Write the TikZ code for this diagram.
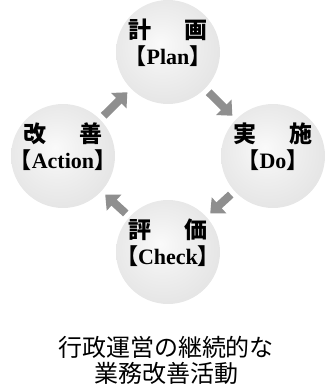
\documentclass[tikz,border=0pt]{standalone}
\usepackage{fontspec}
\usepackage{tikz}
\usetikzlibrary{arrows.meta}
\setmainfont{Liberation Serif}
\newfontfamily\cjk{Noto Sans CJK JP}
\newfontfamily\cjkh[RawFeature=+halt]{Noto Sans CJK JP}
\definecolor{arrowgray}{HTML}{8F8F8F}
\pgfdeclareradialshading{disc}{\pgfpoint{-4bp}{4bp}}{color(0bp)=(gray!4); color(14bp)=(gray!13); color(40bp)=(gray!27); color(45bp)=(gray!36); color(48bp)=(gray!55); color(50bp)=(gray!65)}

\begin{document}
\begin{tikzpicture}[x=1pt, y=-1pt, disc/.style={circle, minimum size=104pt, inner sep=0pt, shading=disc}, lbl/.style={align=center, font=\fontsize{22}{26}\selectfont, yshift=9pt}, big/.style={font=\cjk\bfseries\fontsize{23}{26}\selectfont}, cyc/.style={arrowgray, line width=8pt, -{Triangle[length=12pt,width=21pt]}, shorten >=5pt, shorten <=5pt}]
			\useasboundingbox (0,0) rectangle (325,391);
			\node[disc](plan) at (168, 52) {};
			\node[disc](do) at (273, 156) {};
			\node[disc](check) at (168, 252) {};
			\node[disc](act) at (63, 156) {};
			\node[lbl](planT) at (plan.center) {{\cjk\bfseries\fontsize{23}{26}\selectfont 計\hspace{1.4em}画}\\{\bfseries\cjkh 【}{\bfseries Plan}{\bfseries\cjkh 】}};
			\node[lbl](doT) at (do.center) {{\cjk\bfseries\fontsize{23}{26}\selectfont 実\hspace{1.4em}施}\\{\bfseries\cjkh 【}{\bfseries Do}{\bfseries\cjkh 】}};
			\node[lbl](checkT) at (check.center) {{\cjk\bfseries\fontsize{23}{26}\selectfont 評\hspace{1.4em}価}\\{\bfseries\cjkh 【}{\bfseries Check}{\bfseries\cjkh 】}};
			\node[lbl](actT) at (act.center) {{\cjk\bfseries\fontsize{23}{26}\selectfont 改\hspace{1.4em}善}\\{\bfseries\cjkh 【}{\bfseries Action}{\bfseries\cjkh 】}};
			\draw[cyc](act) -- (plan);
			\draw[cyc](plan) -- (do);
			\draw[cyc](do) -- (check);
			\draw[cyc](check) -- (act);
			\node[align=center, font=\cjk\fontsize{24}{26}\selectfont](goal) at (166, 360) {行政運営の継続的な\\業務改善活動};
		\end{tikzpicture}
\end{document}
